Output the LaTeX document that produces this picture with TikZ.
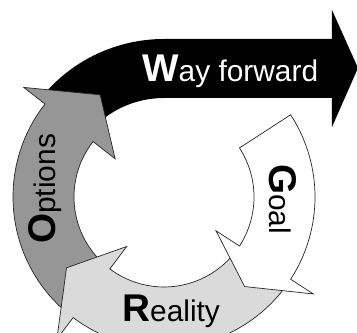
\documentclass[tikz,border=0pt]{standalone}
\usepackage{fontspec}
\setmainfont{Liberation Sans}
\definecolor{optgray}{HTML}{969696}
\definecolor{realgray}{HTML}{DADADA}
\newcommand\capword[2]{{\fontsize{33}{38}\selectfont\bfseries #1}#2}
\tikzset{
 band/.style={draw=black!85,line width=0.6pt,line join=miter},
 word/.style={inner sep=0pt,font=\fontsize{25.5}{30}\selectfont}
}

\begin{document}
\begin{tikzpicture}[x=0.03cm,y=0.03cm]
\def\rin{90}
\def\rout{151}
\def\rmid{120.5}
\def\bin{62}
\def\bout{178}
\useasboundingbox (-164,-136) rectangle (193,197);
% way forward
\fill[black] (140:158) arc[start angle=140,end angle=90,radius=158] -- (168,158) -- (168,187) -- (194,129) -- (168,70) -- (168,99) -- (0,99) arc[start angle=90,end angle=140,radius=99] -- cycle;
% options
\draw[band,fill=optgray] (229:\rout) arc[start angle=229,end angle=142,radius=\rout] -- (142:\bout) -- (122:\rmid) -- (142:\bin) -- (142:\rin) arc[start angle=142,end angle=229,radius=\rin] -- cycle;
% reality
\draw[band,fill=realgray] (-35:\rout) arc[start angle=-35,end angle=-127,radius=\rout] -- (-127:\bout) -- (-144:\rmid) -- (-127:\bin) -- (-127:\rin) arc[start angle=-127,end angle=-35,radius=\rin] -- cycle;
% goal
\draw[band,fill=white] (33:\rout) arc[start angle=33,end angle=-33,radius=\rout] -- (-33:\bout) -- (-48:\rmid) -- (-33:\bin) -- (-33:\rin) arc[start angle=-33,end angle=33,radius=\rin] -- cycle;
\node[word,text=white,anchor=base west] (way) at (-22,115) {\capword{W}{ay forward}};
\node[word,rotate=-90,anchor=base west] (goal) at (106,33) {\capword{G}{oal}};
\node[word,rotate=90,anchor=base west] (options) at (-108,-47) {\capword{O}{ptions}};
\node[word,anchor=base west] (reality) at (-42,-125) {\capword{R}{eality}};
\end{tikzpicture}
\end{document}
